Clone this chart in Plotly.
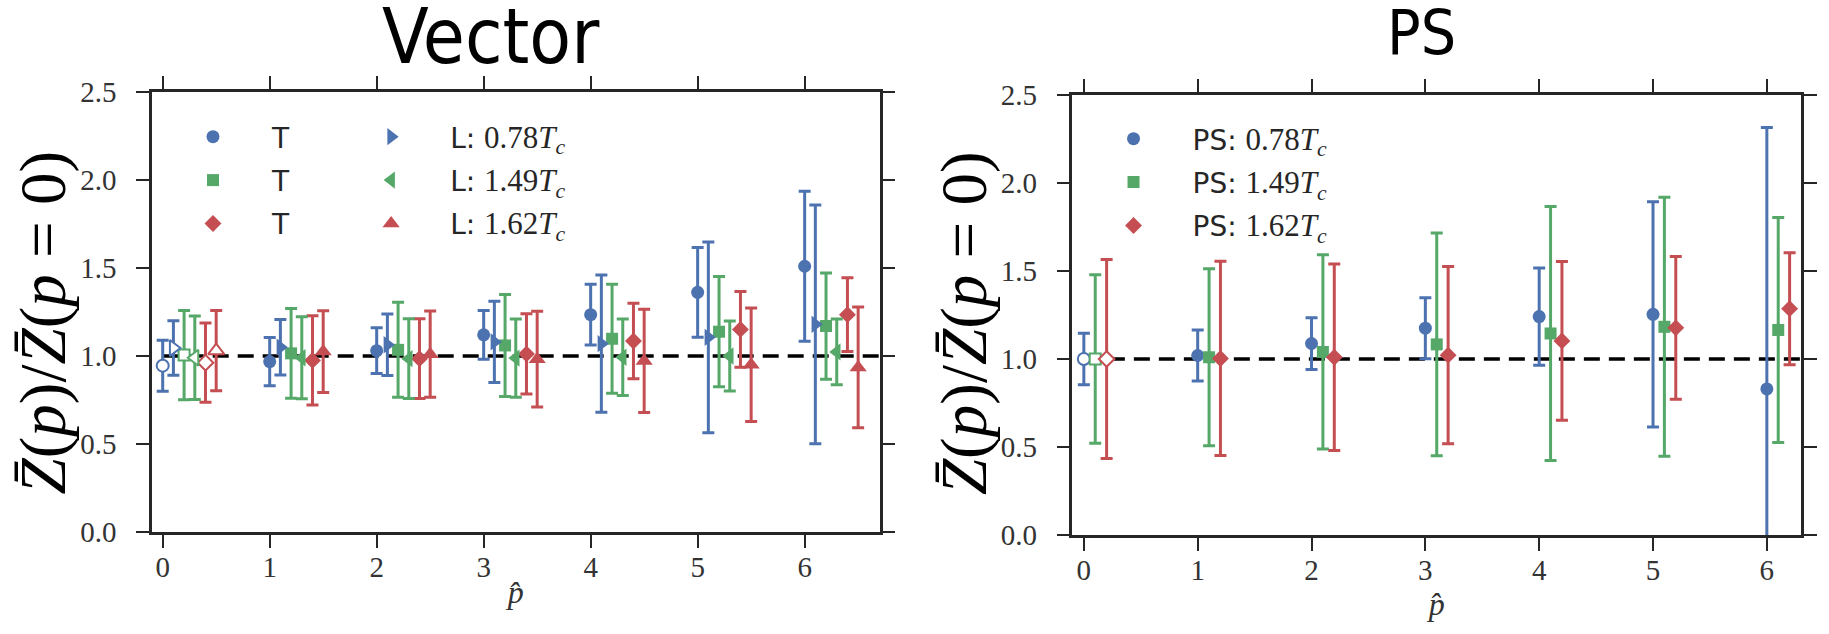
import plotly.graph_objects as go

# momentum index
p_hat = [0, 1, 2, 3, 4, 5, 6]

# ---- Vector channel ----
vec_T078 = [0.945, 0.968, 1.03, 1.12, 1.235, 1.362, 1.51]
vec_T078_err = [0.145, 0.137, 0.13, 0.138, 0.173, 0.255, 0.426]
vec_L078 = [1.045, 1.05, 1.064, 1.08, 1.07, 1.106, 1.18]
vec_L078_err = [0.155, 0.158, 0.175, 0.231, 0.39, 0.542, 0.678]
vec_T149 = [1.005, 1.015, 1.035, 1.06, 1.098, 1.138, 1.17]
vec_T149_err = [0.253, 0.255, 0.27, 0.29, 0.31, 0.313, 0.302]
vec_L149 = [0.99, 0.99, 0.985, 0.988, 0.993, 1.0, 1.023]
vec_L149_err = [0.237, 0.233, 0.226, 0.222, 0.217, 0.199, 0.187]
vec_T162 = [0.962, 0.975, 0.985, 1.012, 1.085, 1.151, 1.235]
vec_T162_err = [0.225, 0.253, 0.226, 0.228, 0.215, 0.215, 0.21]
vec_L162 = [1.03, 1.025, 1.01, 0.982, 0.972, 0.95, 0.935]
vec_L162_err = [0.228, 0.232, 0.245, 0.272, 0.293, 0.322, 0.343]

# ---- PS channel ----
ps_078 = [1.0, 1.02, 1.088, 1.175, 1.241, 1.254, 0.83]
ps_078_err = [0.146, 0.145, 0.147, 0.173, 0.276, 0.64, 1.485]
ps_149 = [1.0, 1.01, 1.04, 1.083, 1.145, 1.183, 1.165]
ps_149_err = [0.479, 0.503, 0.552, 0.633, 0.722, 0.736, 0.639]
ps_162 = [1.0, 1.003, 1.01, 1.022, 1.103, 1.177, 1.286]
ps_162_err = [0.565, 0.552, 0.53, 0.503, 0.451, 0.406, 0.318]

y_ticks = [0.0, 0.5, 1.0, 1.5, 2.0, 2.5]

BLUE, GREEN, RED = "#4C72B0", "#55A868", "#C44E52"
SERIF = "Liberation Serif"
SANS = "DejaVu Sans"
AX = "#262626"


def tc(prefix, val):
    return (f'{prefix}: <span style="font-family:{SERIF};font-size:31px">{val}'
            f'<i>T</i><sub><i>c</i></sub></span>')


fig = go.Figure()


def add_series(vals, errs, shift, color, symbol, size, name, xa, ya, legend, group):
    xs = [p + shift for p in p_hat]
    err_style = dict(type="data", visible=True, thickness=3, width=6, color=color)
    # filled points for p > 0 (carry the legend entry)
    fig.add_trace(go.Scatter(
        x=xs[1:], y=vals[1:], mode="markers", name=name,
        error_y=dict(array=errs[1:], **err_style),
        marker=dict(symbol=symbol, size=size, color=color, line=dict(width=0)),
        xaxis=xa, yaxis=ya, legend=legend, legendgroup=group,
    ))
    # open point at p = 0
    fig.add_trace(go.Scatter(
        x=xs[:1], y=vals[:1], mode="markers", name=name, showlegend=False,
        error_y=dict(array=errs[:1], **err_style),
        marker=dict(symbol=symbol, size=size - 1, color="white",
                    line=dict(width=2, color=color)),
        xaxis=xa, yaxis=ya, legendgroup=group,
    ))


# Vector panel: T column then L column
add_series(vec_T078, vec_T078_err, 0.0, BLUE, "circle", 13, "T", "x", "y", "legend", "vT078")
add_series(vec_T149, vec_T149_err, 0.2, GREEN, "square", 12, "T", "x", "y", "legend", "vT149")
add_series(vec_T162, vec_T162_err, 0.4, RED, "diamond", 13, "T", "x", "y", "legend", "vT162")
add_series(vec_L078, vec_L078_err, 0.1, BLUE, "triangle-right", 15, tc("L", "0.78"), "x", "y", "legend2", "vL078")
add_series(vec_L149, vec_L149_err, 0.3, GREEN, "triangle-left", 15, tc("L", "1.49"), "x", "y", "legend2", "vL149")
add_series(vec_L162, vec_L162_err, 0.5, RED, "triangle-up", 15, tc("L", "1.62"), "x", "y", "legend2", "vL162")

# PS panel
add_series(ps_078, ps_078_err, 0.0, BLUE, "circle", 13, tc("PS", "0.78"), "x2", "y2", "legend3", "ps078")
add_series(ps_149, ps_149_err, 0.1, GREEN, "square", 12, tc("PS", "1.49"), "x2", "y2", "legend3", "ps149")
add_series(ps_162, ps_162_err, 0.2, RED, "diamond", 13, tc("PS", "1.62"), "x2", "y2", "legend3", "ps162")

axis_common = dict(
    showline=True, linecolor=AX, linewidth=2.5, mirror="ticks",
    ticks="outside", ticklen=13, tickwidth=2, tickcolor=AX,
    showgrid=False, zeroline=False,
    tickfont=dict(family=SERIF, size=29, color="#333333"),
)

x_title = dict(text="<i>p̂</i>", font=dict(family=SERIF, size=32, color="#333333"), standoff=0)

legend_common = dict(xanchor="left", yanchor="top", bgcolor="rgba(0,0,0,0)",
                     itemwidth=108, tracegroupgap=4,
                     font=dict(family=SANS, size=28, color="#262626"))

fig.update_layout(
    width=1829, height=634,
    margin=dict(l=152, r=20, t=92, b=99),
    paper_bgcolor="white", plot_bgcolor="white",
    xaxis=dict(domain=[0, 0.4412], range=[-0.1, 6.7], tickvals=p_hat,
               ticklabelstandoff=-6, title=x_title, anchor="y", **axis_common),
    yaxis=dict(domain=[0.0068, 1.0], range=[0, 2.5], tickvals=y_ticks,
               ticktext=[f"{v:.1f}" for v in y_ticks], ticklabelstandoff=14,
               anchor="x", **axis_common),
    xaxis2=dict(domain=[0.5582, 1.0], range=[-0.1, 6.3], tickvals=p_hat,
                ticklabelstandoff=-6, title=x_title, anchor="y2", **axis_common),
    yaxis2=dict(domain=[0.0, 0.9932], range=[0, 2.5], tickvals=y_ticks,
                ticktext=[f"{v:.1f}" for v in y_ticks], ticklabelstandoff=14,
                anchor="x2", **axis_common),
    legend=dict(x=(154 - 152) / 1657, y=(535 - 112) / 443, **legend_common),
    legend2=dict(x=(333 - 152) / 1657, y=(535 - 112) / 443, **legend_common),
    legend3=dict(x=(1079 - 152) / 1657, y=(535 - 114) / 443, **legend_common),
    showlegend=True,
)

# reference line at ratio 1
for xa, ya, xmax in (("x", "y", 6.7), ("x2", "y2", 6.3)):
    fig.add_shape(type="line", xref=xa, yref=ya, x0=0, x1=xmax, y0=1, y1=1,
                  line=dict(color="black", width=3.5, dash="16px,9px"), layer="below")

ylabel = "<i>Z̄</i>(<i>p</i>)/<i>Z̄</i>(<i>p</i> = 0)"
for xp in ((42 - 152) / 1657, (968 - 152) / 1657):
    fig.add_annotation(text=ylabel, xref="paper", yref="paper", x=xp, y=(535 - 323) / 443,
                       xanchor="center", yanchor="middle", textangle=-90,
                       showarrow=False, font=dict(family=SERIF, size=65, color="black"))

TITLE_FONT = "Liberation Sans Narrow, DejaVu Sans Condensed, Roboto, sans-serif"
fig.add_annotation(text="Vector", xref="paper", yref="paper", x=(493 - 152) / 1657,
                   y=(535 - 36) / 443, xanchor="center", yanchor="middle",
                   showarrow=False, font=dict(family=TITLE_FONT, size=76, color="black"))
fig.add_annotation(text="PS", xref="paper", yref="paper", x=(1428 - 152) / 1657,
                   y=(535 - 33) / 443, xanchor="center", yanchor="middle",
                   showarrow=False, font=dict(family=TITLE_FONT, size=62, color="black"))

fig.write_html("out.html")
